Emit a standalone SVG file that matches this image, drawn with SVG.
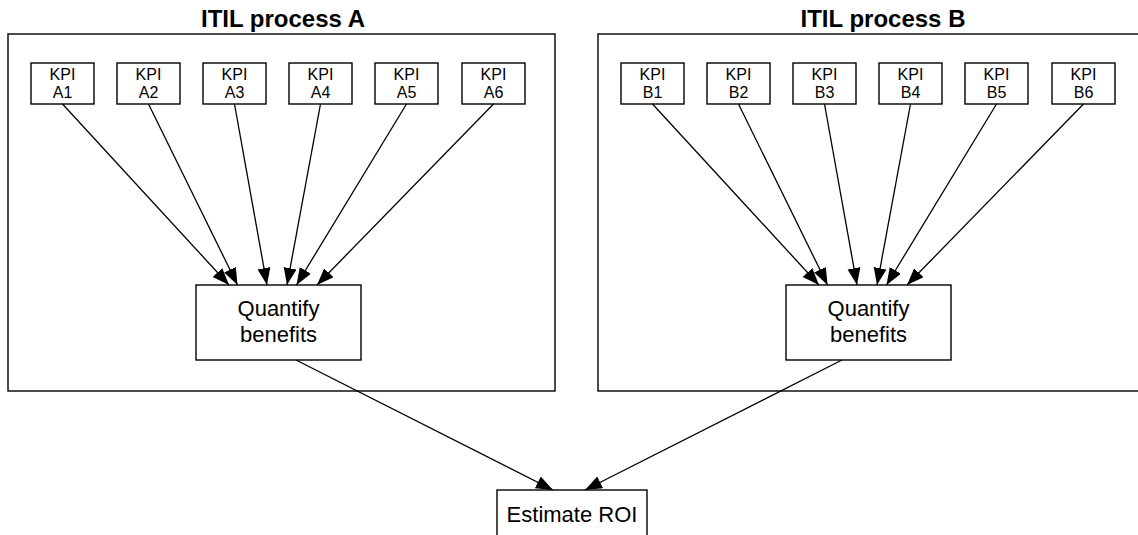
<svg xmlns="http://www.w3.org/2000/svg" width="1138" height="535" viewBox="0 0 1138 535">
  <style>
    .frame { fill: none; stroke: #000; stroke-width: 1.4; }
    .box { fill: #fff; stroke: #000; stroke-width: 1.4; }
    .title { font-family: "Liberation Sans", Arial, sans-serif; font-weight: bold; font-size: 24px; text-anchor: middle; fill: #000; }
    .kpi { font-family: "Liberation Sans", Arial, sans-serif; font-size: 16px; text-anchor: middle; fill: #000; }
    .big { font-family: "Liberation Sans", Arial, sans-serif; font-size: 22px; text-anchor: middle; fill: #000; }
    .link { stroke: #000; stroke-width: 1.3; fill: none; marker-end: url(#arrow); }
  </style>
  <defs>
    <marker id="arrow" markerUnits="userSpaceOnUse" markerWidth="18" markerHeight="14" refX="17" refY="6.5" orient="auto">
      <path d="M0,0 L17,6.5 L0,13 Z" fill="#000"/>
    </marker>
  </defs>
  <rect width="1138" height="535" fill="#fff"/>

  <!-- process containers -->
  <g id="processA">
    <rect class="frame" x="8" y="34" width="547" height="357"/>
    <text class="title" x="283" y="27">ITIL process A</text>
  </g>
  <g id="processB">
    <rect class="frame" x="598" y="34" width="560" height="357"/>
    <text class="title" x="883" y="27">ITIL process B</text>
  </g>

  <!-- KPI boxes, process A -->
  <g id="kpiA1"><rect class="box" x="31" y="63" width="63" height="41"/><text class="kpi" x="62.5" y="80">KPI</text><text class="kpi" x="62.5" y="98">A1</text></g>
  <g id="kpiA2"><rect class="box" x="117" y="63" width="63" height="41"/><text class="kpi" x="148.5" y="80">KPI</text><text class="kpi" x="148.5" y="98">A2</text></g>
  <g id="kpiA3"><rect class="box" x="203" y="63" width="63" height="41"/><text class="kpi" x="234.5" y="80">KPI</text><text class="kpi" x="234.5" y="98">A3</text></g>
  <g id="kpiA4"><rect class="box" x="289" y="63" width="63" height="41"/><text class="kpi" x="320.5" y="80">KPI</text><text class="kpi" x="320.5" y="98">A4</text></g>
  <g id="kpiA5"><rect class="box" x="375" y="63" width="63" height="41"/><text class="kpi" x="406.5" y="80">KPI</text><text class="kpi" x="406.5" y="98">A5</text></g>
  <g id="kpiA6"><rect class="box" x="462" y="63" width="63" height="41"/><text class="kpi" x="493.5" y="80">KPI</text><text class="kpi" x="493.5" y="98">A6</text></g>

  <!-- KPI boxes, process B -->
  <g id="kpiB1"><rect class="box" x="621" y="63" width="63" height="41"/><text class="kpi" x="652.5" y="80">KPI</text><text class="kpi" x="652.5" y="98">B1</text></g>
  <g id="kpiB2"><rect class="box" x="707" y="63" width="63" height="41"/><text class="kpi" x="738.5" y="80">KPI</text><text class="kpi" x="738.5" y="98">B2</text></g>
  <g id="kpiB3"><rect class="box" x="793" y="63" width="63" height="41"/><text class="kpi" x="824.5" y="80">KPI</text><text class="kpi" x="824.5" y="98">B3</text></g>
  <g id="kpiB4"><rect class="box" x="879" y="63" width="63" height="41"/><text class="kpi" x="910.5" y="80">KPI</text><text class="kpi" x="910.5" y="98">B4</text></g>
  <g id="kpiB5"><rect class="box" x="965" y="63" width="63" height="41"/><text class="kpi" x="996.5" y="80">KPI</text><text class="kpi" x="996.5" y="98">B5</text></g>
  <g id="kpiB6"><rect class="box" x="1052" y="63" width="63" height="41"/><text class="kpi" x="1083.5" y="80">KPI</text><text class="kpi" x="1083.5" y="98">B6</text></g>

  <!-- aggregation steps -->
  <g id="quantifyA">
    <rect class="box" x="196" y="285" width="165" height="75"/>
    <text class="big" x="278.5" y="316">Quantify</text>
    <text class="big" x="278.5" y="342">benefits</text>
  </g>
  <g id="quantifyB">
    <rect class="box" x="786" y="285" width="165" height="75"/>
    <text class="big" x="868.5" y="316">Quantify</text>
    <text class="big" x="868.5" y="342">benefits</text>
  </g>
  <g id="estimateROI">
    <rect class="box" x="497" y="490" width="150" height="60"/>
    <text class="big" x="572" y="522">Estimate ROI</text>
  </g>

  <!-- connectors -->
  <g id="connectors">
    <line class="link" x1="62.5" y1="104" x2="229" y2="285"/>
    <line class="link" x1="148.5" y1="104" x2="237.5" y2="285"/>
    <line class="link" x1="234.5" y1="104" x2="267" y2="285"/>
    <line class="link" x1="320.5" y1="104" x2="287" y2="285"/>
    <line class="link" x1="406.5" y1="104" x2="296.5" y2="285"/>
    <line class="link" x1="493.5" y1="104" x2="317" y2="285"/>

    <line class="link" x1="652.5" y1="104" x2="819" y2="285"/>
    <line class="link" x1="738.5" y1="104" x2="827.5" y2="285"/>
    <line class="link" x1="824.5" y1="104" x2="857" y2="285"/>
    <line class="link" x1="910.5" y1="104" x2="877" y2="285"/>
    <line class="link" x1="996.5" y1="104" x2="886.5" y2="285"/>
    <line class="link" x1="1083.5" y1="104" x2="907" y2="285"/>

    <line class="link" x1="296" y1="360" x2="553" y2="490"/>
    <line class="link" x1="842" y1="360" x2="585" y2="490"/>
  </g>
</svg>
